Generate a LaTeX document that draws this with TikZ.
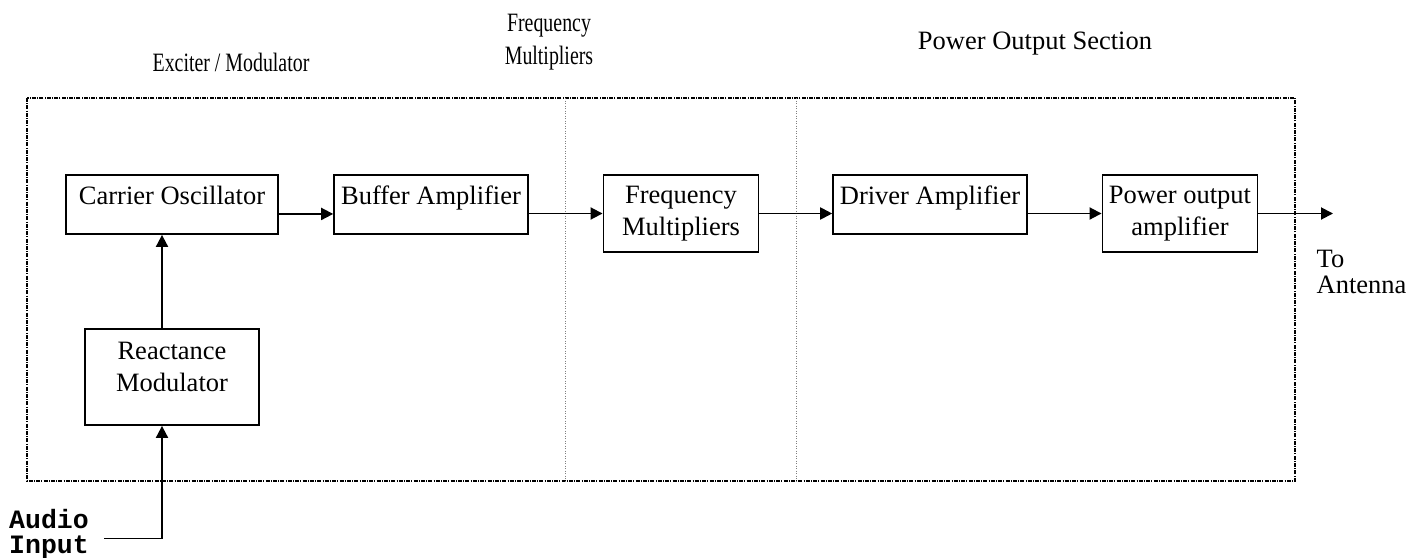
\documentclass[tikz,border=0pt]{standalone}
\usepackage{fontspec}
\setmainfont{Liberation Serif}
\setmonofont{Liberation Mono}
\newfontfamily\narrowserif[FakeStretch=0.75]{Liberation Serif}
\usetikzlibrary{arrows.meta}
\begin{document}
\begin{tikzpicture}[x=1pt, y=-1pt,
  every node/.style={font=\fontsize{26.5}{32}\selectfont},
  box/.style={draw, line width=1.9pt, inner sep=0pt},
  arr/.style={line width=1.9pt, -{Triangle[length=12pt,width=12pt]}},
  frame/.style={line width=1.3pt, dash pattern=on 4pt off 1.2pt on 1pt off 1.2pt},
  divider/.style={line width=0.8pt, gray, dash pattern=on 1pt off 1.5pt},
  caption/.style={inner sep=0pt},
  narrowcaption/.style={inner sep=0pt, font=\fontsize{26.5}{33}\narrowserif}]
\useasboundingbox (0,0) rectangle (1426,557);

% section frame and dividers
\draw[frame] (27,98) rectangle (1295,481);
\draw[divider] (565.5,98) -- (565.5,481);
\draw[divider] (796,98) -- (796,481);

% section captions
\node[narrowcaption, anchor=base] (capexc) at (231,71) {Exciter / Modulator};
\node[narrowcaption, align=center] (capfm) at (549,42) {Frequency\\Multipliers};
\node[caption, anchor=base] (cappo) at (1035,49.5) {Power Output Section};

% blocks
\node[box, anchor=north, minimum width=212pt, text height=30pt, text depth=29pt]
  (co) at (172,174) {Carrier Oscillator};
\node[box, anchor=north, minimum width=193.7pt, text height=30pt, text depth=29pt]
  (ba) at (431,174) {Buffer Amplifier};
\node[box, align=center, minimum width=155pt, minimum height=77.5pt]
  (fm) at (681,213.5) {Frequency\\Multipliers};
\node[box, anchor=north, minimum width=193.7pt, text height=30pt, text depth=29pt]
  (dr) at (930,174) {Driver Amplifier};
\node[box, align=center, minimum width=155pt, minimum height=77.5pt]
  (pa) at (1180,213.5) {Power output\\amplifier};
\node[box, anchor=north, minimum width=174pt, text height=31pt, text depth=65pt]
  (rm) at (172,328) {\begin{tabular}[t]{@{}c@{}}Reactance\\Modulator\end{tabular}};

% input and output labels
\node[caption, anchor=north west, align=left, font=\fontsize{26.5}{25.5}\selectfont\ttfamily\bfseries]
  (ain) at (9,509) {Audio\\Input};
\node[caption, anchor=north west, align=left, font=\fontsize{26.5}{25.5}\selectfont]
  (ant) at (1316.5,250) {To\\Antenna};
\coordinate (inend) at (104,538.5);
\coordinate (outend) at (1333,213.5);

% signal path
\draw[arr] ([yshift=-9.5pt]co.east) -- ([yshift=-9.5pt]ba.west);
\draw[arr] (ba.east |- fm.west) -- (fm.west);
\draw[arr] (fm.east) -- (dr.west |- fm.east);
\draw[arr] (dr.east |- pa.west) -- (pa.west);
\draw[arr] (pa.east) -- (outend);
\draw[arr] ([xshift=-10pt]rm.north) -- ([xshift=-10pt]co.south);
\draw[arr] (inend) -| ([xshift=-10pt]rm.south);
\end{tikzpicture}
\end{document}
